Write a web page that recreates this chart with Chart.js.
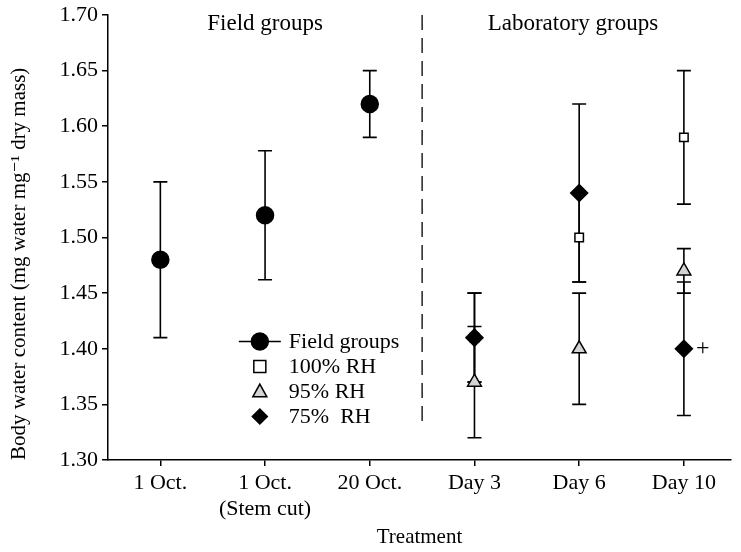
<!DOCTYPE html>
<html><head><meta charset="utf-8">
<script src="https://cdn.jsdelivr.net/npm/chart.js@4.4.0/dist/chart.umd.min.js"></script>
<style>html,body{margin:0;padding:0;background:#fff}#wrap{width:741px;height:552px;position:relative}</style>
</head><body><div id="wrap"><canvas id="c"></canvas></div>
<script>
const categories = ["1 Oct.", ["1 Oct.", "(Stem cut)"], "20 Oct.", "Day 3", "Day 6", "Day 10"];
const fieldMean = [1.48, 1.52, 1.62, null, null, null];
const fieldErr  = [0.07, 0.058, 0.03, null, null, null];
const rh100Mean = [null, null, null, 1.41, 1.50, 1.59];
const rh100Err  = [null, null, null, 0.04, 0.04, 0.06];
const rh95Mean  = [null, null, null, 1.37, 1.40, 1.47];
const rh95Err   = [null, null, null, 0.05, 0.05, 0.02];
const rh75Mean  = [null, null, null, 1.41, 1.54, 1.40];
const rh75Err   = [null, null, null, 0.04, 0.08, 0.06];
const yTicks = [1.30, 1.35, 1.40, 1.45, 1.50, 1.55, 1.60, 1.65, 1.70];
const legendLabels = ["Field groups", "100% RH", "95% RH", "75%  RH"];
const groupLabels = ["Field groups", "Laboratory groups"];

const FONT = "'Liberation Serif', 'DejaVu Serif', serif";
const GREY = '#d4d4d4';

function pts(arr){ return arr.map((v,i)=> v==null ? null : {x:i+1, y:v}).filter(p=>p); }

const series = [
  {label: legendLabels[0], mean: fieldMean, err: fieldErr, style:'circle', r:8.5, fill:'#000', lfill:'#000', lr:8.5},
  {label: legendLabels[1], mean: rh100Mean, err: rh100Err, style:'rect', r:6, fill:['#000', '#fff', '#fff'], lfill:'#fff', lr:6},
  {label: legendLabels[2], mean: rh95Mean, err: rh95Err, style:'triangle', r:8, fill:GREY, lfill:GREY, lr:7},
  {label: legendLabels[3], mean: rh75Mean, err: rh75Err, style:'rectRot', r:8.5, fill:'#000', lfill:'#000', lr:7.5}
];

const errorBars = {
  id: 'errorBars',
  beforeDatasetsDraw(chart){
    const ctx = chart.ctx, xs = chart.scales.x, ys = chart.scales.y;
    ctx.save();
    ctx.strokeStyle = '#000'; ctx.lineWidth = 1.6;
    series.forEach(s=>{
      s.mean.forEach((m,i)=>{
        if(m==null) return;
        const e = s.err[i];
        const x = xs.getPixelForValue(i+1);
        const yt = ys.getPixelForValue(m+e), yb = ys.getPixelForValue(m-e);
        ctx.beginPath();
        ctx.moveTo(x, yt); ctx.lineTo(x, yb);
        ctx.moveTo(x-7, yt); ctx.lineTo(x+7, yt);
        ctx.moveTo(x-7, yb); ctx.lineTo(x+7, yb);
        ctx.stroke();
      });
    });
    ctx.restore();
  },
  afterDraw(chart){
    const ctx = chart.ctx, xs = chart.scales.x, ys = chart.scales.y, ca = chart.chartArea;
    ctx.save();
    // dashed separator
    ctx.strokeStyle = '#000'; ctx.lineWidth = 1.3; ctx.setLineDash([15, 8]);
    const xd = xs.getPixelForValue(3.5);
    ctx.beginPath(); ctx.moveTo(xd, ys.getPixelForValue(1.70)); ctx.lineTo(xd, ys.getPixelForValue(1.333)); ctx.stroke();
    ctx.setLineDash([]);
    // group labels
    ctx.fillStyle = '#000'; ctx.font = '23px ' + FONT; ctx.textBaseline = 'middle'; ctx.textAlign = 'center';
    ctx.fillText(groupLabels[0], xs.getPixelForValue(2.0), ys.getPixelForValue(1.692));
    ctx.fillText(groupLabels[1], xs.getPixelForValue(4.94), ys.getPixelForValue(1.692));
    // plus sign next to Day 10 75% RH
    ctx.textAlign = 'left'; ctx.font = '24px ' + FONT;
    ctx.fillText('+', xs.getPixelForValue(6) + 12, ys.getPixelForValue(rh75Mean[5]));
    // legend
    ctx.font = '22px ' + FONT;
    const lx = xs.getPixelForValue(1.95), ly0 = ys.getPixelForValue(1.4065), step = 25;
    series.forEach((s,k)=>{
      const y = ly0 + k*step;
      ctx.strokeStyle = '#000';
      if(k===0){
        ctx.lineWidth = 1.5; ctx.beginPath(); ctx.moveTo(lx-21, y); ctx.lineTo(lx+21, y); ctx.stroke();
      }
      const r = s.lr;
      ctx.fillStyle = s.lfill; ctx.lineWidth = 1.5;
      ctx.beginPath();
      if(s.style==='circle'){ ctx.arc(lx, y, r, 0, Math.PI*2); }
      else if(s.style==='rect'){ ctx.rect(lx-r, y-r, 2*r, 2*r); }
      else if(s.style==='triangle'){ ctx.moveTo(lx, y-r*1.05); ctx.lineTo(lx+r, y+r*0.75); ctx.lineTo(lx-r, y+r*0.75); ctx.closePath(); }
      else { ctx.moveTo(lx, y-r); ctx.lineTo(lx+r, y); ctx.lineTo(lx, y+r); ctx.lineTo(lx-r, y); ctx.closePath(); }
      ctx.fill(); ctx.stroke();
      ctx.fillStyle = '#000'; ctx.textAlign = 'left';
      ctx.fillText(s.label, lx + 29, y + 1);
    });
    ctx.restore();
  }
};

new Chart(document.getElementById('c'), {
  type: 'scatter',
  data: {
    datasets: series.map(s=>({
      label: s.label,
      data: pts(s.mean),
      pointStyle: s.style,
      pointRadius: s.r,
      pointHoverRadius: s.r,
      pointBackgroundColor: s.fill,
      pointBorderColor: '#000',
      pointBorderWidth: 1.5,
      showLine: false
    }))
  },
  options: {
    responsive: true, maintainAspectRatio: false, animation: false,
    layout: {padding: {top: 0, right: 0, left: 0, bottom: 0}},
    plugins: {legend: {display: false}, tooltip: {enabled: false}},
    scales: {
      x: {
        type: 'linear', min: 0.5, max: 6.45,
        afterBuildTicks(sc){ sc.ticks = categories.map((c,i)=>({value: i+1})); },
        afterFit(sc){ sc.height = 92; },
        grid: {drawOnChartArea: false, drawTicks: true, tickLength: 6, color: '#000', lineWidth: 1.5},
        border: {color: '#000', width: 1.5},
        ticks: {color: '#000', font: {family: FONT, size: 22, lineHeight: 1.2}, padding: 4, maxRotation: 0, autoSkip: false,
          callback: (v)=> categories[v-1]},
        title: {display: true, text: 'Treatment', color: '#000', font: {family: FONT, size: 21}, padding: {top: 0, bottom: 2}}
      },
      y: {
        min: 1.30, max: 1.70,
        afterBuildTicks(sc){ sc.ticks = yTicks.map(v=>({value: v})); },
        afterFit(sc){ sc.width = 108; },
        grid: {drawOnChartArea: false, drawTicks: true, tickLength: 6, color: '#000', lineWidth: 1.5},
        border: {color: '#000', width: 1.5},
        ticks: {color: '#000', font: {family: FONT, size: 22, lineHeight: 1.0}, padding: 4, callback: (v)=> Number(v).toFixed(2)},
        title: {display: true, align: 'start', text: 'Body water content (mg water mg\u207B\u00B9 dry mass)', color: '#000', font: {family: FONT, size: 21}, padding: {top: 7, bottom: 0}}
      }
    }
  },
  plugins: [errorBars]
});
</script>
</body></html>
